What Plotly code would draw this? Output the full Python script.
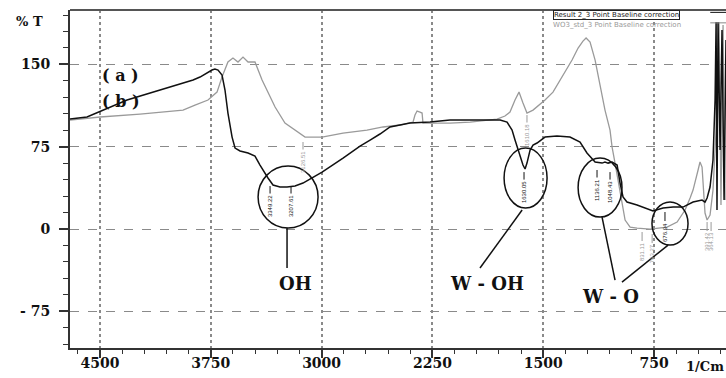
import plotly.graph_objects as go

# ---- data ----
wn_a = [4703, 4588, 4317, 4046, 3870, 3823, 3769, 3742, 3722, 3701, 3674, 3654, 3634, 3606,
        3586, 3552, 3498, 3451, 3417, 3390, 3363, 3329, 3282, 3234, 3180, 3126, 2997, 2855,
        2740, 2672, 2605, 2537, 2402, 2266, 2131, 1995, 1860, 1792, 1745, 1711, 1691, 1671,
        1657, 1637, 1623, 1610, 1589, 1569, 1542, 1488, 1407, 1319, 1251, 1204, 1149, 1102,
        1082, 1061, 1034, 1000, 980, 960, 933, 865, 757, 689, 621, 554, 486, 425, 405, 391,
        371, 351, 337, 330, 324, 317, 303, 290, 276, 263]
t_a = [100.2, 102.1, 117.6, 128.5, 135.8, 138.5, 143.1, 144.9, 145.8, 144.9, 140.3, 126.7,
       105.7, 83.8, 73.8, 71.1, 69.3, 66.5, 58.3, 51.9, 46.5, 40.1, 38.3, 38.3, 39.2, 41.9,
       51.9, 64.7, 75.6, 81.1, 86.6, 93.0, 96.6, 97.5, 99.3, 99.3, 99.3, 99.3, 97.5, 90.2,
       81.1, 72.0, 65.6, 58.3, 54.7, 60.1, 72.0, 76.5, 78.4, 83.8, 84.8, 83.8, 79.3, 69.3,
       61.1, 60.1, 61.1, 60.1, 61.1, 58.3, 41.9, 29.2, 24.6, 21.9, 16.4, 19.1, 20.0, 20.0,
       24.6, 26.4, 24.6, 28.3, 38.3, 62.9, 117.6, 188.6, 17.3, 188.6, 72.0, 181.3, 26.4, 172.2]

wn_b = [4703, 4500, 4229, 3938, 3857, 3769, 3708, 3674, 3634, 3600, 3566, 3532, 3498, 3451,
        3403, 3370, 3315, 3248, 3180, 3112, 2997, 2855, 2693, 2584, 2469, 2381, 2368, 2354,
        2334, 2320, 2314, 2131, 1995, 1813, 1759, 1725, 1691, 1664, 1637, 1610, 1569, 1488,
        1434, 1386, 1346, 1305, 1264, 1231, 1210, 1183, 1149, 1116, 1082, 1048, 1034, 1014,
        980, 946, 912, 865, 777, 723, 662, 594, 540, 506, 486, 452, 439, 425, 418, 405, 391,
        371, 351, 330, 310, 297, 283, 269]
t_b = [99.3, 102.1, 104.8, 108.4, 113.0, 117.6, 124.8, 138.5, 152.2, 155.8, 152.2, 156.7,
       152.2, 152.2, 135.8, 126.7, 111.2, 96.6, 90.2, 83.8, 83.8, 87.5, 90.2, 93.0, 94.8,
       97.5, 103.9, 107.5, 106.6, 105.7, 96.6, 96.6, 97.5, 100.2, 103.0, 106.6, 117.6, 124.8,
       114.8, 105.7, 108.4, 117.6, 124.8, 135.8, 144.9, 154.0, 164.9, 171.3, 174.1, 170.4,
       154.0, 131.2, 108.4, 90.2, 74.7, 60.1, 32.8, 8.2, 1.8, 0.9, 0.0, 0.9, 1.8, 6.4, 17.3,
       28.3, 35.5, 53.8, 61.1, 56.5, 41.9, 14.6, 8.2, 12.8, 35.5, 90.2, 188.6, 21.9, 185.9, 26.4]

x_ticks = [4500, 3750, 3000, 2250, 1500, 750]
x_ticktext = ["4500", "3750", "3000", "2250", "1500", "750"]
y_ticks = [-75, 0, 75, 150]
y_ticktext = ["- 75", "0", "75", "150"]

# peak labels: wavenumber, top of tick (%T), text, series
peak_x = [3349, 3207, 1630, 1136, 1048, 676, 3126, 1610, 831, 763, 391, 364]
peak_y = [39.2, 39.2, 51.9, 53.8, 51.9, 15.5, 79.3, 103.9, -2.7, -4.6, 6.4, 6.4]
peak_txt = ["3349.22", "3207.61", "1630.05", "1136.21", "1048.43", "676.34",
            "3126.51", "1610.18", "831.11", "763.27", "391.42", "364.13"]
peak_series = ["a", "a", "a", "a", "a", "a", "b", "b", "b", "b", "b", "b"]

# ellipses (x0, x1, y0, y1) in data units
ellipses = [(3430, 3024, 0.9, 57.4), (1765, 1474, 19.1, 73.8),
            (1264, 967, 10.9, 64.7), (764, 520, -14.6, 24.6)]
connectors = [(3234, 0.9, 3234, -35.5), (1643, 17.3, 1928, -35.5),
              (1102, 10.9, 1014, -46.5), (655, -14.6, 967, -48.3)]

legend_a = "Result 2_3 Point Baseline correction"
legend_b = "WO3_std_3 Point Baseline correction"

SERIF = "DejaVu Serif"

fig = go.Figure()
fig.add_trace(go.Scatter(x=wn_b, y=t_b, mode="lines",
                         line=dict(color="#9a9a9a", width=1.3), showlegend=False))
fig.add_trace(go.Scatter(x=wn_a, y=t_a, mode="lines",
                         line=dict(color="#111111", width=1.5), showlegend=False))

shapes = []
for (x0, x1, y0, y1) in ellipses:
    shapes.append(dict(type="circle", xref="x", yref="y", x0=x0, x1=x1, y0=y0, y1=y1,
                       line=dict(color="#111", width=1.5)))
for (x0, y0, x1, y1) in connectors:
    shapes.append(dict(type="line", xref="x", yref="y", x0=x0, y0=y0, x1=x1, y1=y1,
                       line=dict(color="#111", width=1.5)))
# top frame line
shapes.append(dict(type="line", xref="paper", yref="paper", x0=0, x1=1, y0=1, y1=1,
                   line=dict(color="#555", width=2)))
# legend line samples
shapes.append(dict(type="line", xref="paper", yref="paper", x0=0.976, x1=1.0, y0=0.993, y1=0.993,
                   line=dict(color="#111", width=1)))
shapes.append(dict(type="line", xref="paper", yref="paper", x0=0.976, x1=1.0, y0=0.962, y1=0.962,
                   line=dict(color="#888", width=1)))

annotations = []
def txt(x, y, s, size=16, xref="x", yref="y", xanchor="center", yanchor="middle", color="#111"):
    annotations.append(dict(x=x, y=y, xref=xref, yref=yref, text="<b>" + s + "</b>",
                            showarrow=False, xanchor=xanchor, yanchor=yanchor,
                            font=dict(family=SERIF, size=size, color=color)))

txt(4358, 140.3, "( a )", 16)
txt(4358, 116.6, "( b )", 16)
txt(3180, -49.2, "OH", 18)
txt(1880, -49.2, "W - OH", 18)
txt(1048, -61.1, "W - O", 18)
txt(-0.061, 0.967, "% T", 13, xref="paper", yref="paper")
txt(1.0, -0.084, "1/Cm", 13, xref="paper", yref="paper", xanchor="right", yanchor="bottom")

for px_, py_, t_, s_ in zip(peak_x, peak_y, peak_txt, peak_series):
    col = "#111" if s_ == "a" else "#999"
    annotations.append(dict(x=px_, y=py_, xref="x", yref="y", text=t_, textangle=-90,
                            showarrow=True, arrowhead=0, arrowwidth=1, arrowcolor=col,
                            ax=0, ay=20, standoff=0,
                            font=dict(family="Liberation Sans", size=6, color=col)))

# legend box
annotations.append(dict(x=0.736, y=1.0, xref="paper", yref="paper", xanchor="left", yanchor="top",
                        text=legend_a, showarrow=False,
                        bgcolor="white", bordercolor="#222", borderwidth=1, borderpad=0,
                        font=dict(family="DejaVu Sans", size=7, color="#222")))
annotations.append(dict(x=0.733, y=0.957, xref="paper", yref="paper", xanchor="left", yanchor="middle",
                        text=legend_b, showarrow=False,
                        font=dict(family="DejaVu Sans", size=7, color="#999")))

fig.update_layout(
    width=726, height=378,
    margin=dict(l=70, r=0, t=10, b=30),
    paper_bgcolor="white", plot_bgcolor="white",
    shapes=shapes, annotations=annotations,
    showlegend=False,
    xaxis=dict(range=[4703, 263], tickmode="array", tickvals=x_ticks, ticktext=x_ticktext,
               showline=True, linecolor="#333", linewidth=2,
               ticks="outside", ticklen=8, tickwidth=1.5, tickcolor="#333",
               showgrid=True, gridcolor="#8a8a8a", griddash="dot", gridwidth=1.5,
               zeroline=False, ticklabelstandoff=-7,
               tickfont=dict(family=SERIF, size=14, color="#111", weight="bold"),
               minor=dict(ticks="outside", ticklen=4, tickwidth=1.2, tickcolor="#333",
                          dtick=150, tick0=0, showgrid=False)),
    yaxis=dict(range=[-108.4, 199.6], tickmode="array", tickvals=y_ticks, ticktext=y_ticktext,
               showline=True, linecolor="#333", linewidth=2,
               ticks="outside", ticklen=9, tickwidth=1.5, tickcolor="#333",
               showgrid=True, gridcolor="#8a8a8a", griddash="dash", gridwidth=1,
               zeroline=False, ticklabelstandoff=6,
               tickfont=dict(family=SERIF, size=14, color="#111", weight="bold"),
               minor=dict(ticks="outside", ticklen=5, tickwidth=1.2, tickcolor="#333",
                          dtick=15, tick0=0, showgrid=False)),
)

fig.write_html("out.html")
